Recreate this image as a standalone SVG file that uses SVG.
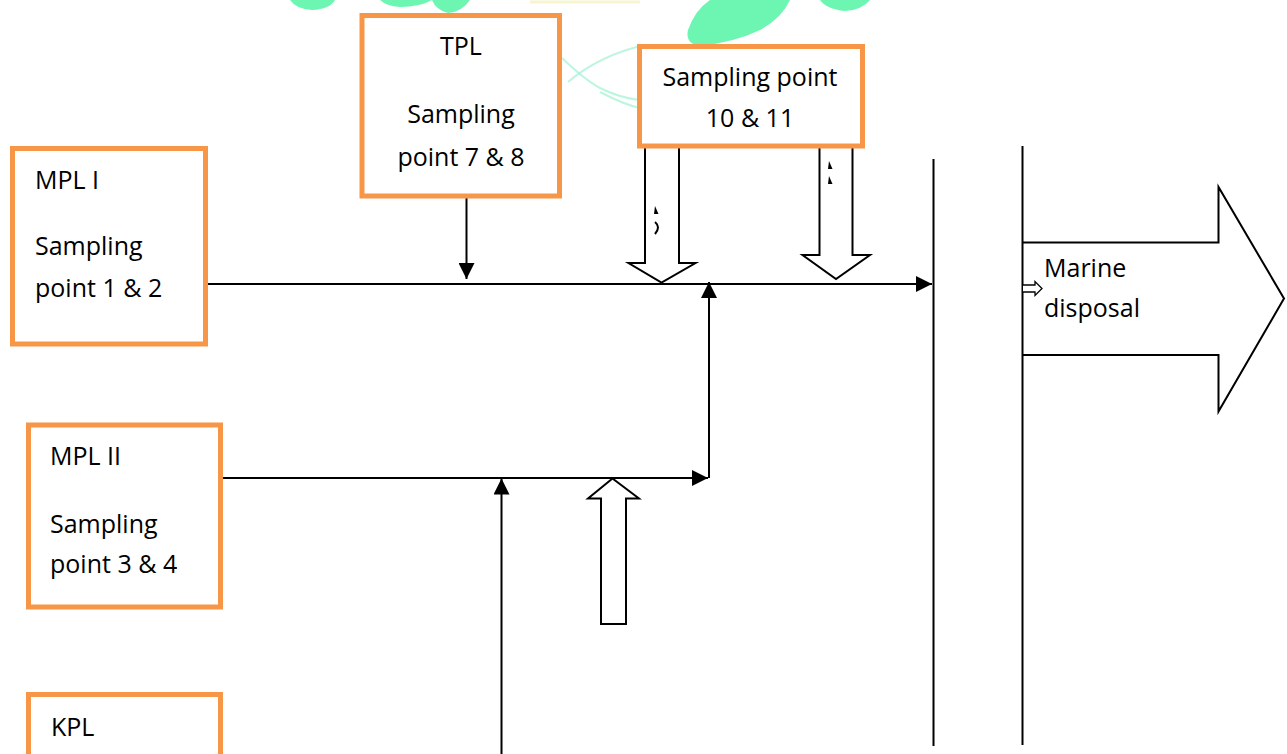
<svg xmlns="http://www.w3.org/2000/svg" width="1287" height="754" viewBox="0 0 1287 754">
  <style>
    .box { fill: #ffffff; stroke: #F79646; stroke-width: 5; }
    .lbl { font-family: "Open Sans", "Liberation Sans", sans-serif; font-size: 25px; fill: #000000; }
    .mid { text-anchor: middle; }
    .ln { stroke: #000000; stroke-width: 2; fill: none; }
    .blk { fill: #ffffff; stroke: #000000; stroke-width: 2; stroke-linejoin: miter; }
    .wm { fill: #5cf5aa; opacity: 0.9; }
    .wmline { fill: none; stroke: #9ff2d0; stroke-width: 2; opacity: 0.7; }
  </style>
  <defs>
    <marker id="ah" viewBox="0 0 16 16" refX="16" refY="8" markerWidth="16" markerHeight="16" markerUnits="userSpaceOnUse" orient="auto">
      <path d="M0,0 L16,8 L0,16 Z" fill="#000000"/>
    </marker>
  </defs>
  <rect width="1287" height="754" fill="#ffffff"/>

  <!-- faint background watermark -->
  <g id="watermark">
    <path class="wm" d="M290,0 L335,0 Q330,9 312,10 Q296,9 290,0 Z"/>
    <path class="wm" d="M380,0 L432,0 Q420,7 400,7 Q386,6 380,0 Z"/>
    <path class="wm" d="M432,0 L470,0 Q462,12 448,13 Q436,10 432,0 Z"/>
    <path class="wm" d="M710,0 L790,0 Q782,18 760,30 Q735,42 700,46 Q685,44 688,30 Q695,10 710,0 Z"/>
    <path class="wm" d="M820,0 L870,0 Q862,10 845,11 Q826,9 820,0 Z"/>
    <path class="wmline" d="M562,58 Q585,80 600,88 Q620,98 640,100"/>
    <path class="wmline" d="M568,82 Q600,55 645,45"/>
    <path class="wmline" d="M600,92 Q625,105 640,108"/>
    <path d="M530,2 L640,2" stroke="#f3f0b0" stroke-width="3" opacity="0.6"/>
  </g>

  <g id="marine">
    <path class="blk" d="M1022.5,242.5 L1218.5,242.5 L1218.5,187 L1284,298.5 L1218.5,411.5 L1218.5,355 L1022.5,355"/>
    <text class="lbl" x="1044" y="277">Marine</text>
    <text class="lbl" x="1044" y="317">disposal</text>
  </g>

  <g id="connectors">
    <!-- MPL I main line -->
    <line class="ln" x1="208" y1="284" x2="932" y2="284" marker-end="url(#ah)"/>
    <!-- TPL down arrow -->
    <line class="ln" x1="466.5" y1="198" x2="466.5" y2="279" marker-end="url(#ah)"/>
    <!-- MPL II line -->
    <line class="ln" x1="223" y1="478" x2="708" y2="478" marker-end="url(#ah)"/>
    <!-- riser to main line -->
    <line class="ln" x1="709" y1="478" x2="709" y2="282" marker-end="url(#ah)"/>
    <!-- KPL riser -->
    <line class="ln" x1="501.5" y1="754" x2="501.5" y2="478.5" marker-end="url(#ah)"/>
    <!-- vertical bars -->
    <line class="ln" x1="933.5" y1="159" x2="933.5" y2="746"/>
    <line class="ln" x1="1022.5" y1="146" x2="1022.5" y2="745"/>
    <!-- small hollow arrow at the bar -->
    <path d="M1023,285 L1035,285 L1035,281.5 L1042,288.5 L1035,295.5 L1035,292 L1023,292" fill="#fff" stroke="#000" stroke-width="1.3"/>
    <!-- hollow block arrows -->
    <path class="blk" d="M645,148 L645,263 L628.5,263 L661.5,282.5 L695.5,263 L679,263 L679,148"/>
    <path class="blk" d="M819.5,148 L819.5,255 L802.5,255 L836,279 L870,255 L852.5,255 L852.5,148"/>
    <path class="blk" d="M601,624 L601,498.5 L588,498.5 L612.5,478.5 L639,498.5 L626,498.5 L626,624 Z"/>
    <!-- small fragments inside block arrows -->
    <path d="M655,206 L658.5,214 L654,214 Z" fill="#000"/>
    <path d="M655,222 Q661,227 655,234" fill="none" stroke="#000" stroke-width="2"/>
    <path d="M829,161 L832.5,169 L828,169 Z" fill="#000"/>
    <path d="M829,176 L832.5,184 L828,184 Z" fill="#000"/>
  </g>

  <g id="mpl1">
    <rect class="box" x="12.5" y="148.5" width="193" height="195.5"/>
    <text class="lbl" x="35" y="189">MPL I</text>
    <text class="lbl" x="35" y="255">Sampling</text>
    <text class="lbl" x="35" y="297">point 1 &amp; 2</text>
  </g>

  <g id="tpl">
    <rect class="box" x="362" y="15.5" width="197.5" height="180.5"/>
    <text class="lbl mid" x="461" y="55">TPL</text>
    <text class="lbl mid" x="461" y="123">Sampling</text>
    <text class="lbl mid" x="461" y="166">point 7 &amp; 8</text>
  </g>

  <g id="sp1011">
    <rect class="box" x="639.5" y="46.5" width="223" height="99.5"/>
    <text class="lbl mid" x="750" y="86">Sampling point</text>
    <text class="lbl mid" x="750" y="127">10 &amp; 11</text>
  </g>

  <g id="mpl2">
    <rect class="box" x="28.5" y="425" width="192" height="182"/>
    <text class="lbl" x="50" y="465">MPL II</text>
    <text class="lbl" x="50" y="533">Sampling</text>
    <text class="lbl" x="50" y="573">point 3 &amp; 4</text>
  </g>

  <g id="kpl">
    <rect class="box" x="28.5" y="694.5" width="192" height="80"/>
    <text class="lbl" x="51" y="736">KPL</text>
  </g>
</svg>
